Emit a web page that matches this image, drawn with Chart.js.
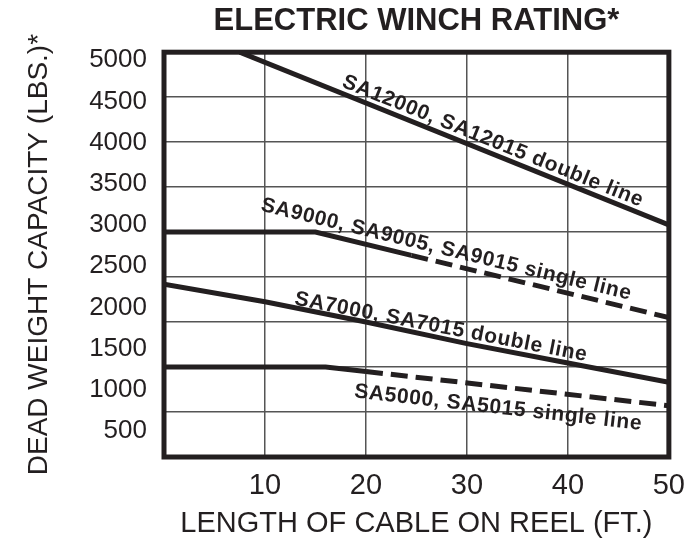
<!DOCTYPE html>
<html>
<head>
<meta charset="utf-8">
<script src="https://cdn.jsdelivr.net/npm/chart.js@4.4.1/dist/chart.umd.min.js"></script>
<style>
  html, body { margin: 0; padding: 0; background: #ffffff; }
  #wrap { width: 697px; height: 549px; }
</style>
</head>
<body>
<div id="wrap"><canvas id="c" width="697" height="549"></canvas></div>
<script>
// ---------- DATA ----------
const chartTitle = 'ELECTRIC WINCH RATING*';
const xAxisTitle = 'LENGTH OF CABLE ON REEL (FT.)';
const yAxisTitle = 'DEAD WEIGHT CAPACITY (LBS.)*';

const cableLengthTicks = [10, 20, 30, 40, 50];
const capacityTicks = [500, 1000, 1500, 2000, 2500, 3000, 3500, 4000, 4500, 5000];

const seriesNames = [
  'SA12000, SA12015 double line',
  'SA9000, SA9005, SA9015 single line',
  'SA7000, SA7015 double line',
  'SA5000, SA5015 single line'
];

const sa12000Length = [7.5, 50];
const sa12000Capacity = [5000, 3080];

const sa9000Length = [0, 15, 24.5, 50];
const sa9000Capacity = [3000, 3000, 2742, 2050];
const sa9000DashedFrom = 24.5;

const sa7000Length = [0, 10, 20, 30, 40, 50];
const sa7000Capacity = [2420, 2225, 2000, 1760, 1545, 1330];

const sa5000Length = [0, 16, 20, 50];
const sa5000Capacity = [1500, 1500, 1450, 1070];
const sa5000DashedFrom = 20;

// ---------- STYLE ----------
const INK = '#231f20';
const GRID = '#555555';
const BASE_FONT = "'Liberation Sans', Arial, Helvetica, sans-serif";

const seriesLengths = [sa12000Length, sa9000Length, sa7000Length, sa5000Length];
const seriesCapacities = [sa12000Capacity, sa9000Capacity, sa7000Capacity, sa5000Capacity];
const dashedFrom = [Infinity, sa9000DashedFrom, Infinity, sa5000DashedFrom];

// label placement style: centre along the line (x value), perpendicular offset (px),
// angle taken from the chord between two lengths, and target text width (px)
const labelStyle = [
  { at: 32.1, offset: -6, angleFrom: [7.5, 50], width: 322 },
  { at: 27.6, offset: -8, angleFrom: [15, 50], width: 380 },
  { at: 27.2, offset: -5, angleFrom: [0, 50], width: 297 },
  { at: 33.3, offset: 27, angleFrom: [16, 50], width: 289 }
];

function toPoints(xs, ys) { return xs.map((v, i) => ({ x: v, y: ys[i] })); }
function interp(xs, ys, v) {
  if (v <= xs[0]) return ys[0];
  for (let i = 1; i < xs.length; i++) {
    if (v <= xs[i]) {
      const t = (v - xs[i - 1]) / (xs[i] - xs[i - 1]);
      return ys[i - 1] + t * (ys[i] - ys[i - 1]);
    }
  }
  return ys[ys.length - 1];
}

const datasets = seriesNames.map((name, i) => ({
  label: name,
  data: toPoints(seriesLengths[i], seriesCapacities[i]),
  xAxisID: 'x',
  yAxisID: 'y',
  borderColor: INK,
  borderWidth: 5,
  pointRadius: 0,
  tension: 0,
  fill: false,
  borderCapStyle: 'butt',
  borderJoinStyle: 'miter',
  segment: {
    borderDash: ctx => (ctx.p0.parsed.x >= dashedFrom[i] - 1e-9 ? [17, 8] : undefined)
  }
}));

const framePlugin = {
  id: 'frame',
  afterDatasetsDraw(chart) {
    const { ctx, chartArea: a } = chart;
    ctx.save();
    ctx.strokeStyle = INK;
    ctx.lineWidth = 5;
    ctx.lineJoin = 'miter';
    ctx.strokeRect(a.left, a.top, a.right - a.left, a.bottom - a.top);
    ctx.restore();
  }
};

const labelPlugin = {
  id: 'lineLabels',
  afterDatasetsDraw(chart) {
    const { ctx } = chart;
    const xs = chart.scales.x, ys = chart.scales.y;
    seriesNames.forEach((text, i) => {
      const st = labelStyle[i];
      const L = seriesLengths[i], C = seriesCapacities[i];
      const ax = xs.getPixelForValue(st.angleFrom[0]);
      const ay = ys.getPixelForValue(interp(L, C, st.angleFrom[0]));
      const bx = xs.getPixelForValue(st.angleFrom[1]);
      const by = ys.getPixelForValue(interp(L, C, st.angleFrom[1]));
      const ang = Math.atan2(by - ay, bx - ax);
      const cx = xs.getPixelForValue(st.at);
      const cy = ys.getPixelForValue(interp(L, C, st.at));
      ctx.save();
      ctx.translate(cx, cy);
      ctx.rotate(ang);
      ctx.font = "bold 21px 'Liberation Sans Narrow', 'Liberation Sans', Arial, sans-serif";
      ctx.letterSpacing = '0px';
      const w = ctx.measureText(text).width;
      const sp = (st.width - w) / Math.max(1, text.length - 1);
      ctx.letterSpacing = sp.toFixed(2) + 'px';
      ctx.textAlign = 'center';
      ctx.textBaseline = 'alphabetic';
      ctx.fillStyle = INK;
      ctx.fillText(text, sp / 2, st.offset);
      ctx.restore();
    });
  }
};

new Chart(document.getElementById('c'), {
  type: 'line',
  data: { datasets },
  plugins: [framePlugin, labelPlugin],
  options: {
    responsive: false,
    devicePixelRatio: 1,
    animation: false,
    layout: { padding: { left: 0, right: 18, top: 0, bottom: 0 } },
    plugins: {
      legend: { display: false },
      tooltip: { enabled: false },
      title: {
        display: true,
        text: chartTitle,
        fullSize: false,
        color: INK,
        font: { family: BASE_FONT, size: 31, weight: 'bold', lineHeight: 1.2 },
        padding: { top: 3, bottom: 12 }
      }
    },
    scales: {
      x: {
        type: 'linear',
        min: 0,
        max: 50,
        afterBuildTicks: s => { s.ticks = cableLengthTicks.map(v => ({ value: v })); },
        afterFit: s => { s.height = 92; },
        grid: { display: true, color: GRID, lineWidth: 1.5, drawTicks: false },
        border: { display: false },
        ticks: {
          color: INK,
          font: { family: BASE_FONT, size: 29 },
          padding: 12,
          maxRotation: 0,
          autoSkip: false,
          callback: v => String(v)
        },
        title: {
          display: true,
          text: xAxisTitle,
          color: INK,
          font: { family: BASE_FONT, size: 29, lineHeight: 1.2 },
          padding: { top: 0, bottom: 8 }
        }
      },
      yl: {
        type: 'linear',
        position: 'left',
        min: 185,
        max: 5097,
        afterBuildTicks: s => { s.ticks = capacityTicks.map(v => ({ value: v })); },
        afterFit: s => { s.width = 164; },
        grid: { display: false, drawTicks: false },
        border: { display: false },
        ticks: {
          color: INK,
          font: { family: BASE_FONT, size: 26 },
          padding: 17,
          callback: v => String(v)
        },
        title: {
          display: true,
          text: yAxisTitle,
          color: INK,
          font: { family: BASE_FONT, size: 28, lineHeight: 1.2 },
          padding: { top: 22, bottom: 0 }
        }
      },
      y: {
        type: 'linear',
        position: 'left',
        min: 500,
        max: 5000,
        afterBuildTicks: s => { s.ticks = capacityTicks.map(v => ({ value: v })); },
        afterFit: s => { s.width = 0; },
        grid: { display: true, color: GRID, lineWidth: 1.5, drawTicks: false },
        border: { display: false },
        ticks: { display: false }
      }
    }
  }
});
</script>
</body>
</html>
